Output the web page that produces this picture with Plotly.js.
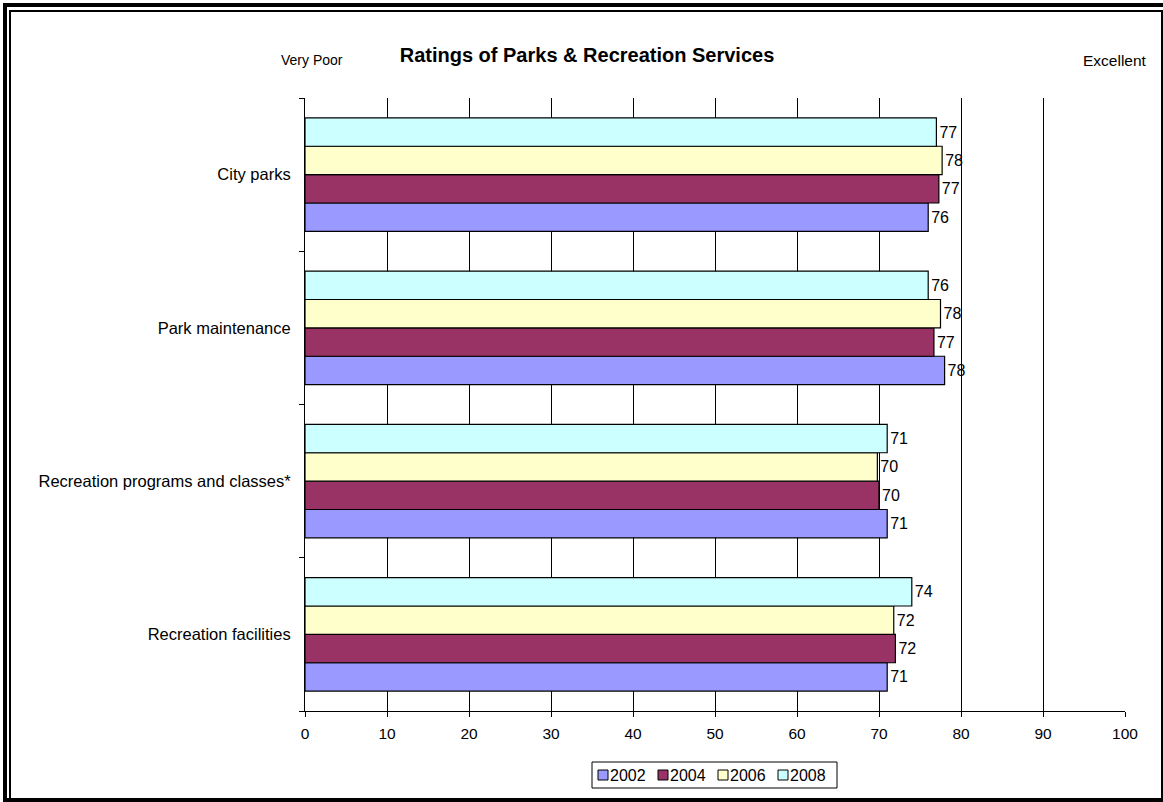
<!DOCTYPE html>
<html>
<head>
<meta charset="utf-8">
<script src="https://cdn.plot.ly/plotly-3.0.1.min.js"></script>
<style>
  html, body { margin: 0; padding: 0; background: #fff; }
  #wrap { position: relative; width: 1163px; height: 802px; overflow: hidden; }
  #chart { position: absolute; left: 0; top: 0; width: 1163px; height: 802px; }
  .frame { position: absolute; pointer-events: none; background: #000; }
</style>
</head>
<body>
<div id="wrap">
  <div id="chart"></div>
  <!-- double page frame -->
  <div class="frame" style="left:3px; top:3px; width:1160px; height:4px;"></div>
  <div class="frame" style="left:3px; top:3px; width:4px; height:799px;"></div>
  <div class="frame" style="left:9px; top:10px; width:1154px; height:2px;"></div>
  <div class="frame" style="left:9px; top:10px; width:2px; height:792px;"></div>
  <div class="frame" style="left:1161px; top:10px; width:2px; height:792px;"></div>
  <div class="frame" style="left:3px; top:798px; width:1160px; height:4px;"></div>
</div>
<script>
// Services rated, listed top to bottom
const services = [
  'City parks',
  'Park maintenance',
  'Recreation programs and classes*',
  'Recreation facilities'
];

// Survey years and their bar colours
const years = ['2002', '2004', '2006', '2008'];
const yearColors = ['#9999FF', '#993366', '#FFFFCC', '#CCFFFF'];

// Average rating (0 = very poor, 100 = excellent), same order as services
const rating2002 = [76.0, 78.0, 71.0, 71.0];
const rating2004 = [77.3, 76.7, 70.0, 72.0];
const rating2006 = [77.7, 77.5, 69.8, 71.8];
const rating2008 = [77.0, 76.0, 71.0, 74.0];

const ratingsByYear = [rating2002, rating2004, rating2006, rating2008];

const xTicks = [0, 10, 20, 30, 40, 50, 60, 70, 80, 90, 100];

const FONT = 'Arial, "Liberation Sans", sans-serif';

// Plot area in pixels (used to place the legend box)
const W = 1163, H = 802;
const M = { l: 305, r: 38, t: 98, b: 91 };
const plotW = W - M.l - M.r, plotH = H - M.t - M.b;
const px = x => (x - M.l) / plotW;
const py = y => (H - M.b - y) / plotH;

const traces = years.map((yr, i) => ({
  type: 'bar',
  orientation: 'h',
  name: yr,
  y: services,
  x: ratingsByYear[i],
  marker: { color: yearColors[i], line: { color: '#000', width: 1.2 } },
  texttemplate: '%{x:.0f}',
  textposition: 'outside',
  textfont: { family: FONT, size: 16, color: '#000' },
  cliponaxis: false,
  hoverinfo: 'x+name'
}));

// Legend drawn as a boxed row of swatches beneath the axis
const shapes = [];
const annotations = [];
const legLeft = 592, legRight = 837, legTop = 762, legBottom = 788;
shapes.push({
  type: 'rect', xref: 'paper', yref: 'paper',
  x0: px(legLeft), x1: px(legRight), y0: py(legBottom), y1: py(legTop),
  line: { color: '#000', width: 1 }, fillcolor: '#fff'
});
years.forEach((yr, i) => {
  const sx = 598 + i * 60;
  const cy = (legTop + legBottom) / 2;
  shapes.push({
    type: 'rect', xref: 'paper', yref: 'paper',
    x0: px(sx), x1: px(sx + 10), y0: py(cy + 5), y1: py(cy - 5),
    line: { color: '#000', width: 1 }, fillcolor: yearColors[i]
  });
  annotations.push({
    xref: 'paper', yref: 'paper', x: px(sx + 10), y: py(cy),
    xanchor: 'left', yanchor: 'middle', showarrow: false,
    text: yr, font: { family: FONT, size: 16, color: '#000' }
  });
});

// Scale end labels
annotations.push({
  xref: 'paper', yref: 'paper', x: px(312), y: py(60),
  xanchor: 'center', yanchor: 'middle', showarrow: false,
  text: 'Very Poor', font: { family: FONT, size: 14, color: '#000' }
});
annotations.push({
  xref: 'paper', yref: 'paper', x: px(1115), y: py(61),
  xanchor: 'center', yanchor: 'middle', showarrow: false,
  text: 'Excellent', font: { family: FONT, size: 15.5, color: '#000' }
});

const layout = {
  width: W, height: H,
  margin: M,
  paper_bgcolor: '#fff',
  plot_bgcolor: '#fff',
  showlegend: false,
  barmode: 'group',
  bargap: 0.26,
  bargroupgap: 0,
  title: {
    text: '<b>Ratings of Parks &amp; Recreation Services</b>',
    font: { family: FONT, size: 20, color: '#000' },
    x: 587 / W, xanchor: 'center', xref: 'container',
    y: 1 - 55 / H, yanchor: 'middle', yref: 'container'
  },
  xaxis: {
    range: [0, 100],
    tickvals: xTicks,
    ticktext: xTicks.map(String),
    showgrid: true, gridcolor: '#000', gridwidth: 1,
    zeroline: false,
    showline: true, linecolor: '#000', linewidth: 1,
    ticks: 'outside', ticklen: 5, tickcolor: '#000',
    ticklabelstandoff: 3,
    tickfont: { family: FONT, size: 15.5, color: '#000' },
    fixedrange: true
  },
  yaxis: {
    type: 'category',
    categoryorder: 'array',
    categoryarray: services.slice().reverse(),
    showgrid: false, zeroline: false,
    showline: true, linecolor: '#000', linewidth: 1,
    ticks: 'outside', ticklen: 5, tickcolor: '#000',
    tickson: 'boundaries',
    ticklabelstandoff: 10,
    tickfont: { family: FONT, size: 16.5, color: '#000' },
    fixedrange: true
  },
  shapes: shapes,
  annotations: annotations
};

Plotly.newPlot('chart', traces, layout, { displayModeBar: false, staticPlot: true });
</script>
</body>
</html>
